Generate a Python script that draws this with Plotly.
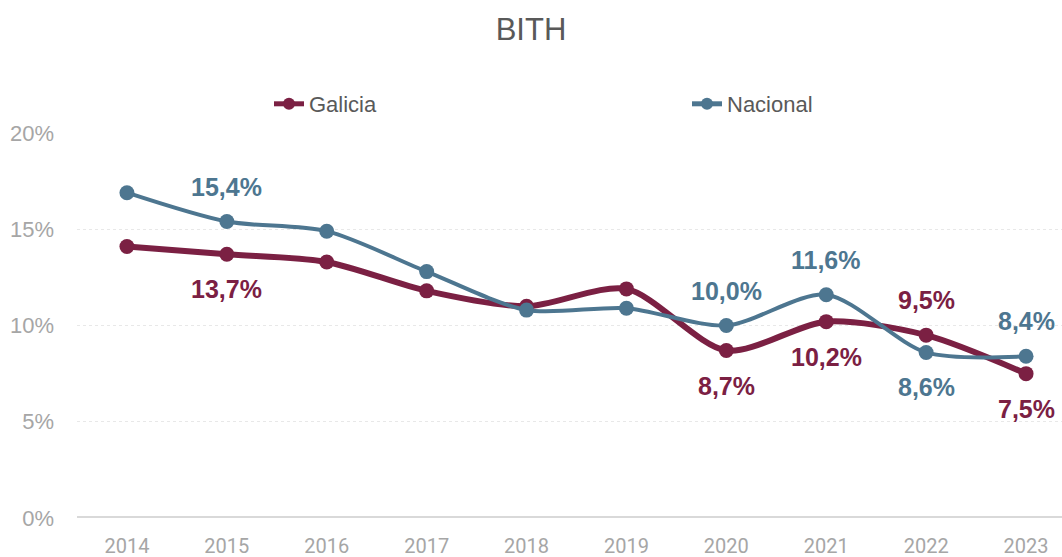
import plotly.graph_objects as go

years = [2014, 2015, 2016, 2017, 2018, 2019, 2020, 2021, 2022, 2023]
galicia = [14.1, 13.7, 13.3, 11.8, 11.0, 11.9, 8.7, 10.2, 9.5, 7.5]
nacional = [16.9, 15.4, 14.9, 12.8, 10.8, 10.9, 10.0, 11.6, 8.6, 8.4]
# which points carry a data label, and whether above (+1) or below (-1)
galicia_labels = {2015: -1, 2020: -1, 2021: -1, 2022: 1, 2023: -1}
nacional_labels = {2015: 1, 2020: 1, 2021: 1, 2022: -1, 2023: 1}
y_ticks = [0, 5, 10, 15, 20]
y_tick_text = ["0%", "5%", "10%", "15%", "20%"]

C_GAL = "#7B2043"
C_NAC = "#4D7690"

fig = go.Figure()
fig.add_trace(go.Scatter(x=years, y=galicia, name="Galicia", mode="lines+markers",
                         line=dict(color=C_GAL, width=6, shape="spline", smoothing=0.8),
                         marker=dict(size=15, color=C_GAL), cliponaxis=False))
fig.add_trace(go.Scatter(x=years, y=nacional, name="Nacional", mode="lines+markers",
                         line=dict(color=C_NAC, width=4, shape="spline", smoothing=0.8),
                         marker=dict(size=15, color=C_NAC), cliponaxis=False))

annotations = []
for series, labels, color in [(galicia, galicia_labels, C_GAL), (nacional, nacional_labels, C_NAC)]:
    for yr, v in zip(years, series):
        if yr in labels:
            annotations.append(dict(x=yr, y=v, text=f"{v:.1f}%".replace(".", ","),
                                    showarrow=False, yshift=35 * labels[yr],
                                    font=dict(family="Liberation Sans, Arial", size=25, color=color, weight="bold")))

fig.update_layout(
    width=1062, height=557,
    paper_bgcolor="white", plot_bgcolor="white",
    margin=dict(l=77, r=0, t=133, b=39, autoexpand=False),
    title=dict(text="BITH", x=0.5, xanchor="center", xref="container", y=1 - 29 / 557, yanchor="middle",
               font=dict(family="Liberation Sans, Arial", size=31, color="#595959")),
    showlegend=True,
    legend=dict(orientation="h", xref="container", yref="container",
                x=269 / 1062, xanchor="left", y=1 - 104 / 557, yanchor="middle",
                entrywidth=373, entrywidthmode="pixels",
                font=dict(family="Liberation Sans, Arial", size=22, color="#595959"),
                itemsizing="constant"),
    xaxis=dict(range=[2013.5, 2023.36], tickmode="array", tickvals=years,
               ticktext=[str(y) for y in years], showgrid=False, zeroline=False,
               showline=False, ticks="", ticklabelstandoff=14,
               tickfont=dict(family="Liberation Sans Narrow, Arial Narrow, Roboto", size=20, color="#A6A6A6")),
    yaxis=dict(range=[0, 20], tickmode="array", tickvals=y_ticks, ticktext=y_tick_text,
               showgrid=True, gridcolor="#E8E8E8", griddash="dot", gridwidth=1,
               zeroline=False, showline=False, ticks="", ticklabelstandoff=22,
               tickfont=dict(family="Liberation Sans, Arial", size=22, color="#A6A6A6")),
    annotations=annotations,
    shapes=[dict(type="line", xref="paper", yref="y", x0=0, x1=1, y0=0, y1=0,
                 line=dict(color="#D9D9D9", width=4), layer="below")],
)

fig.write_html("out.html", config={"displayModeBar": False},
               post_script="document.body.style.margin='0';document.body.style.overflow='hidden';")
